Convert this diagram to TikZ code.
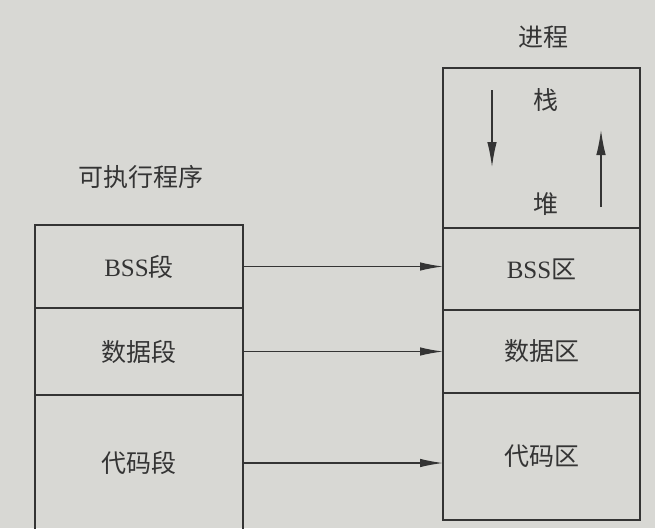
\documentclass[tikz,border=0pt]{standalone}
\usepackage{fontspec}
\setmainfont{Noto Sans CJK SC}
\newfontfamily\latin{Liberation Serif}
\usetikzlibrary{arrows.meta,positioning}
\definecolor{paper}{RGB}{216,216,212}
\definecolor{ink}{RGB}{52,52,52}
\tikzset{
  flow/.style={-{Latex[length=23pt,width=8.5pt]},line width=1.2pt,draw=ink},
  seg/.style={draw=ink,line width=1.2pt,inner sep=0pt,outer sep=0pt,
              text=ink,font=\fontsize{25}{29}\selectfont},
  lseg/.style={seg,minimum width=208pt},
  rseg/.style={seg,minimum width=197pt},
  title/.style={text=ink,font=\fontsize{25}{29}\selectfont}
}
\begin{document}
\begin{tikzpicture}[x=1pt,y=-1pt,node distance=0pt]
  \fill[paper] (0,0) rectangle (655,528);
  \useasboundingbox (0,0) rectangle (655,528);

  % executable file
  \node[title] (exe) at (141,177) {可执行程序};
  \node[lseg,minimum height=83pt] (lbss) at (139,266.5) {{\latin BSS}段};
  \node[lseg,minimum height=87pt,below=of lbss] (ldata) {数据段};
  \node[lseg,minimum height=136pt,below=of ldata] (lcode) {代码段};

  % process image
  \node[title] (proc) at (543,37) {进程};
  \node[rseg,minimum height=160pt] (rheap) at (541.5,148) {};
  \node[title] (stack) at (546,100) {栈};
  \node[title] (heap) at (546,204) {堆};
  \node[rseg,minimum height=82pt,below=of rheap] (rbss) {{\latin BSS}区};
  \node[rseg,minimum height=83pt,below=of rbss] (rdata) {数据区};
  \node[rseg,minimum height=127pt,below=of rdata] (rcode) {代码区};

  \coordinate (stacktop) at (492,90);
  \coordinate (stackend) at (492,167);
  \coordinate (heaptop) at (601,207);
  \coordinate (heapend) at (601,130);
  \draw[flow,-{Latex[length=25pt,width=9.5pt]}] (stacktop) -- (stackend);
  \draw[flow,-{Latex[length=25pt,width=9.5pt]}] (heaptop) -- (heapend);

  \draw[flow] (lbss.east) -- (lbss.east -| rbss.west);
  \draw[flow] (ldata.east) -- (ldata.east -| rdata.west);
  \draw[flow] (lcode.east) -- (lcode.east -| rcode.west);
\end{tikzpicture}
\end{document}
